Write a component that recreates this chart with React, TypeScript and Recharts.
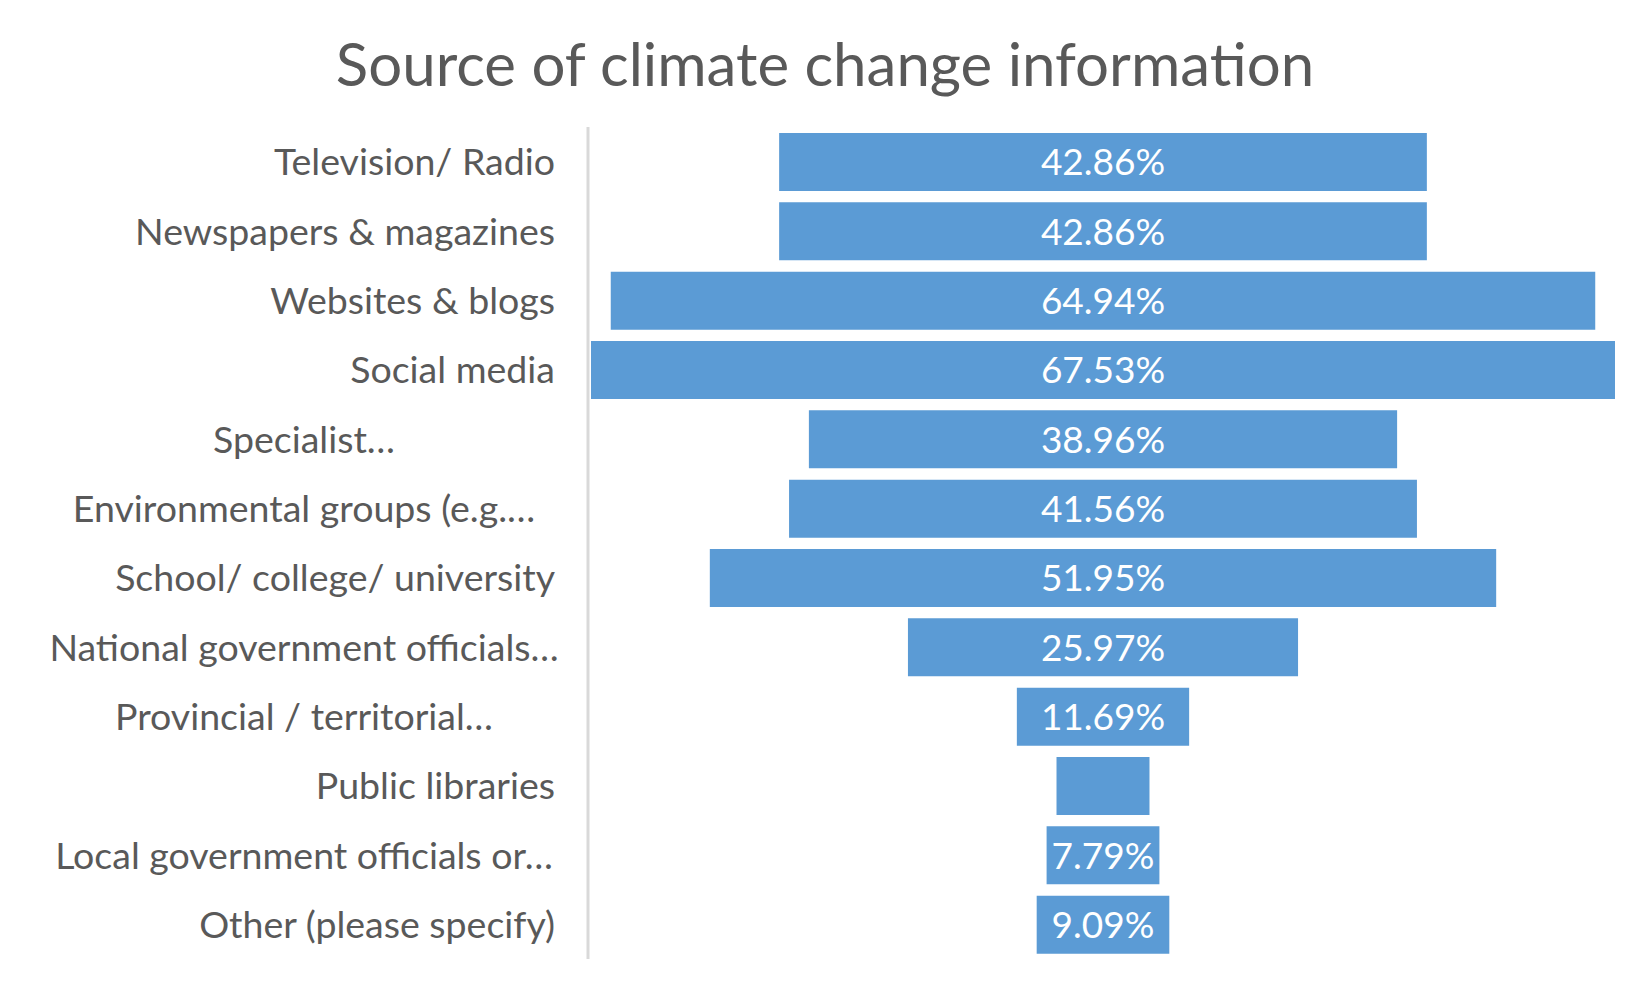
import React from "react";
import { BarChart, Bar, XAxis, YAxis, LabelList } from "recharts";

const categories = [
  "Television/ Radio",
  "Newspapers & magazines",
  "Websites & blogs",
  "Social media",
  "Specialist…",
  "Environmental groups (e.g.…",
  "School/ college/ university",
  "National government officials…",
  "Provincial / territorial…",
  "Public libraries",
  "Local government officials or…",
  "Other (please specify)",
];

const percents = [42.86, 42.86, 64.94, 67.53, 38.96, 41.56, 51.95, 25.97, 11.69, 6.49, 7.79, 9.09];

// Excel left the label off the smallest bar
const showLabel = [true, true, true, true, true, true, true, true, true, false, true, true];

const MAX = Math.max(...percents);

const data = categories.map((name, i) => ({
  name,
  pad: (MAX - percents[i]) / 2,
  value: percents[i],
  label: showLabel[i] ? percents[i].toFixed(2) + "%" : "",
}));

const FONT = "Lato, 'Open Sans', sans-serif";
const GREY = "#595959";

function CategoryTick(props: any) {
  const { x, y, payload } = props;
  const text: string = payload.value;
  // truncated labels are centred by Excel, whole ones sit right-aligned
  const truncated = text.endsWith("…");
  return (
    <text
      x={truncated ? x - 251 : x}
      y={y}
      dy="0.36em"
      textAnchor={truncated ? "middle" : "end"}
      fill={GREY}
      fontSize={37.5}
      fontFamily={FONT}
    >
      {text}
    </text>
  );
}

function ValueLabel(props: any) {
  const { x, y, width, height, value } = props;
  if (!value) return null;
  return (
    <text
      x={x + width / 2}
      y={y + height / 2}
      dy="0.36em"
      textAnchor="middle"
      fill="#ffffff"
      fontSize={37}
      fontFamily={FONT}
    >
      {value}
    </text>
  );
}

export default function App() {
  return (
    <div style={{ position: "absolute", left: 0, top: 0, width: 1650, height: 990, background: "#fff" }}>
      <div
        style={{
          position: "absolute",
          left: 0,
          width: 1650,
          top: 28,
          textAlign: "center",
          fontFamily: FONT,
          fontSize: 60,
          color: GREY,
          lineHeight: "70px",
        }}
      >
        Source of climate change information
      </div>
      <BarChart
        width={1650}
        height={990}
        data={data}
        layout="vertical"
        margin={{ top: 127, right: 32, bottom: 31, left: 0 }}
        barCategoryGap={5}
      >
        <XAxis type="number" hide domain={[0, MAX]} />
        <YAxis
          type="category"
          dataKey="name"
          width={588}
          axisLine={{ stroke: "#D9D9D9", strokeWidth: 3 }}
          tickLine={false}
          tickSize={0}
          tickMargin={33}
          tick={<CategoryTick />}
          interval={0}
        />
        <Bar dataKey="pad" stackId="f" fill="transparent" barSize={64} isAnimationActive={false} />
        <Bar
          dataKey="value"
          stackId="f"
          fill="#5B9BD5"
          stroke="#ffffff"
          strokeWidth={6}
          barSize={64}
          isAnimationActive={false}
        >
          <LabelList dataKey="label" content={<ValueLabel />} />
        </Bar>
      </BarChart>
    </div>
  );
}
